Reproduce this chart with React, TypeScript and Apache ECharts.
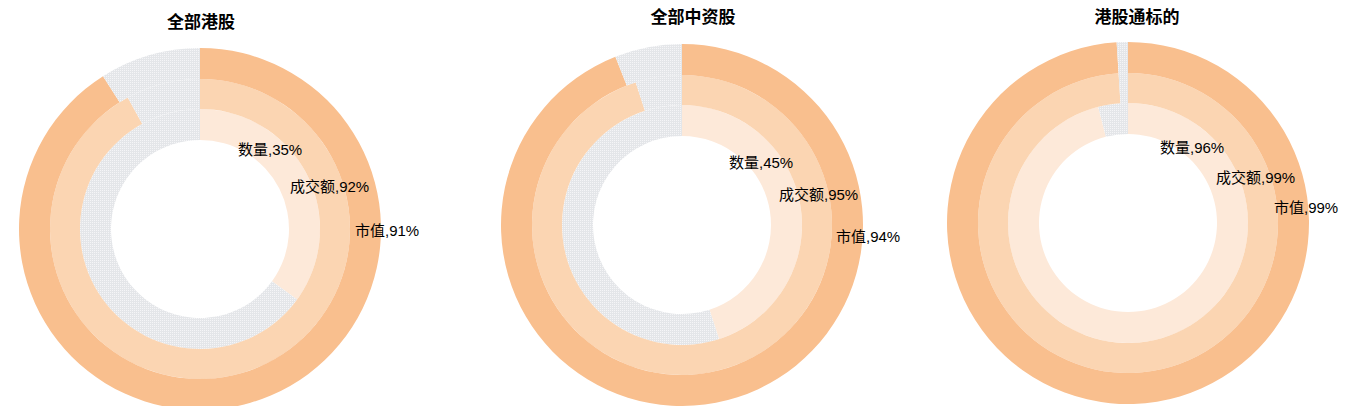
import { useEffect, useRef } from 'react';
import * as echarts from 'echarts';

// data
const GROUPS = ['全部港股', '全部中资股', '港股通标的'];
const RINGS = ['数量', '成交额', '市值'];
const COUNT_SHARE = [35, 45, 96];
const TURNOVER_SHARE = [92, 95, 99];
const MARKET_CAP_SHARE = [91, 94, 99];

// layout (pixels)
const CENTERS = [[200, 229], [682, 225], [1128, 223]];
const TITLE_POS = [[201, 14], [693, 9], [1137, 9]];
const RING_RADII = [[89, 120], [120, 150], [150, 181]];
const RING_COLORS = ['#FDE9D9', '#FBD5B2', '#F9BF8E'];
// label anchor offsets from the centre, per group, per ring
const LABEL_OFFSETS = [
  [[38, -80], [90, -43], [155, 1]],
  [[47, -63], [97, -31], [154, 11]],
  [[32, -76], [88, -46], [146, -16]],
];

const FONT = '"Liberation Sans", "Noto Sans CJK SC", sans-serif';

function makeHatch() {
  const c = document.createElement('canvas');
  c.width = 4;
  c.height = 4;
  const ctx = c.getContext('2d')!;
  ctx.fillStyle = '#E4E6E9';
  ctx.fillRect(0, 0, 4, 4);
  ctx.fillStyle = '#F5F5F7';
  ctx.fillRect(0, 0, 1, 1);
  ctx.fillRect(2, 2, 1, 1);
  ctx.fillRect(0, 2, 1, 1);
  ctx.fillRect(2, 0, 1, 1);
  return c;
}

export default function App() {
  const chartRef = useRef<HTMLDivElement>(null);

  useEffect(() => {
    if (!chartRef.current) return;
    document.body.style.margin = '0';
    const chart = echarts.init(chartRef.current, null, { renderer: 'svg' });
    const hatch = { image: makeHatch(), repeat: 'repeat' };

    const shares = [COUNT_SHARE, TURNOVER_SHARE, MARKET_CAP_SHARE];
    const series: any[] = [];
    GROUPS.forEach((_, g) => {
      const [cx, cy] = CENTERS[g];
      RINGS.forEach((ring, r) => {
        const v = shares[r][g];
        const [dx, dy] = LABEL_OFFSETS[g][r];
        series.push({
          type: 'pie',
          name: ring,
          center: [cx, cy],
          radius: RING_RADII[r],
          startAngle: 90,
          clockwise: true,
          silent: true,
          avoidLabelOverlap: false,
          emphasis: { disabled: true },
          itemStyle: { borderWidth: 0, borderRadius: 0 },
          label: {
            show: true,
            formatter: (p: any) => `${p.seriesName},${p.value}%`,
            fontFamily: FONT,
            fontSize: 15,
            color: '#000',
          },
          labelLine: { show: false },
          labelLayout: () => ({ x: cx + dx, y: cy + dy, align: 'left', verticalAlign: 'middle' }),
          data: [
            { value: v, name: ring, itemStyle: { color: RING_COLORS[r] } },
            { value: 100 - v, name: '其他', itemStyle: { color: hatch }, label: { show: false } },
          ],
        });
      });
    });

    chart.setOption({
      animation: false,
      title: GROUPS.map((t, g) => ({
        text: t,
        left: TITLE_POS[g][0],
        top: TITLE_POS[g][1],
        padding: 0,
        textAlign: 'center',
        textStyle: { fontFamily: FONT, fontSize: 17, fontWeight: 'bold', color: '#000' },
      })),
      series,
    });

    return () => {
      chart.dispose();
    };
  }, []);

  return <div ref={chartRef} style={{ width: 1353, height: 406 }} />;
}
